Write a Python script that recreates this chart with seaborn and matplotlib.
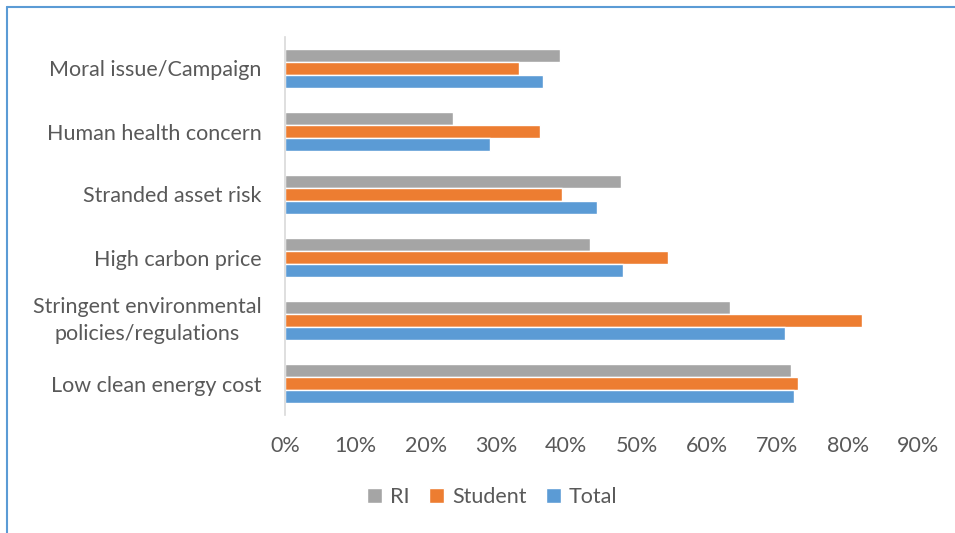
import matplotlib
matplotlib.use("Agg")
import matplotlib.pyplot as plt
from matplotlib.lines import Line2D
from matplotlib.ticker import PercentFormatter
import seaborn as sns
import pandas as pd

sns.set_style("white")
plt.rcParams['font.family'] = ['Lato', 'DejaVu Sans']

# ---- data (percent of respondents) ----
categories = ["Moral issue/Campaign", "Human health concern", "Stranded asset risk",
              "High carbon price", "Stringent environmental\npolicies/regulations",
              "Low clean energy cost"]
ri = [39.1, 23.9, 47.8, 43.4, 63.2, 72.0]
student = [33.2, 36.3, 39.4, 54.5, 82.1, 72.9]
total = [36.7, 29.1, 44.3, 48.1, 71.1, 72.4]
groups = ["RI", "Student", "Total"]
palette = {"RI": "#A5A5A5", "Student": "#ED7D31", "Total": "#5B9BD5"}

rows = []
for g, vals in zip(groups, [ri, student, total]):
    for c, v in zip(categories, vals):
        rows.append({"category": c, "group": g, "value": v})
df = pd.DataFrame(rows)

fig = plt.figure(figsize=(9.55, 5.33), dpi=100)
ax = fig.add_axes([285 / 955, 1 - 415 / 533, (918 - 285) / 955, (415 - 37) / 533])

sns.barplot(data=df, y="category", x="value", hue="group", order=categories,
            hue_order=groups, palette=palette, width=0.62, orient="h",
            saturation=1, ax=ax, errorbar=None)

ax.set_xlim(0, 90)
ax.set_ylim(5.5, -0.5)
ax.set_xticks(range(0, 91, 10))
ax.xaxis.set_major_formatter(PercentFormatter(decimals=0))
ax.set_xlabel("")
ax.set_ylabel("")
for s in ["top", "right", "bottom"]:
    ax.spines[s].set_visible(False)
ax.spines["left"].set_color("#D9D9D9")
ax.spines["left"].set_linewidth(1.2)
ax.tick_params(axis="both", length=0, labelsize=15.5, labelcolor="#595959")
ax.tick_params(axis="y", pad=17)
ax.tick_params(axis="x", pad=15)
for lbl in ax.get_yticklabels():
    lbl.set_multialignment("center")
    lbl.set_linespacing(1.45)
    if "\n" in lbl.get_text():
        lbl.set_verticalalignment("center")

handles, labels = ax.get_legend_handles_labels()
ax.get_legend().remove()
fig.legend(handles, labels, loc="center", bbox_to_anchor=(492 / 955, 1 - 497 / 533),
           ncol=3, frameon=False, fontsize=15.5, labelcolor="#595959",
           handlelength=0.72, handleheight=0.72, handletextpad=0.35, columnspacing=0.9)

# chart frame (top and left edges visible)
fig.add_artist(Line2D([7 / 955, 7 / 955], [0, 1 - 7 / 533], transform=fig.transFigure,
                      color="#5B9BD5", lw=1.5))
fig.add_artist(Line2D([7 / 955, 1], [1 - 7 / 533, 1 - 7 / 533], transform=fig.transFigure,
                      color="#5B9BD5", lw=1.5))

fig.savefig("out.png", dpi=100)
